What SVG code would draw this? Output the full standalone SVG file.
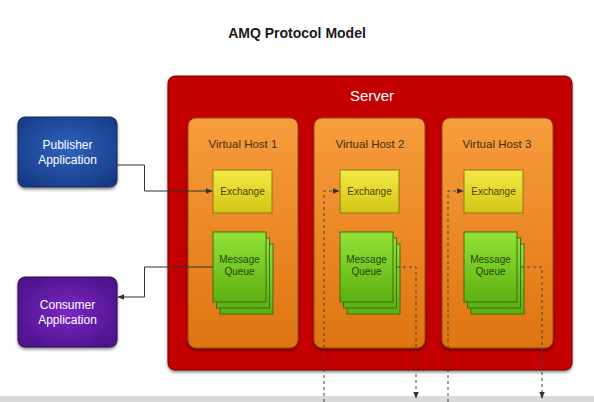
<svg xmlns="http://www.w3.org/2000/svg" width="594" height="402" viewBox="0 0 594 402">
  <defs>
    <linearGradient id="gVH" x1="0" y1="0" x2="0" y2="1">
      <stop offset="0" stop-color="#F89D3E"/>
      <stop offset="1" stop-color="#DE7410"/>
    </linearGradient>
    <linearGradient id="gEx" x1="0" y1="0" x2="0" y2="1">
      <stop offset="0" stop-color="#F4EA46"/>
      <stop offset="1" stop-color="#D2C414"/>
    </linearGradient>
    <linearGradient id="gMQ" x1="0" y1="0" x2="0" y2="1">
      <stop offset="0" stop-color="#92E236"/>
      <stop offset="1" stop-color="#5CB012"/>
    </linearGradient>
    <radialGradient id="gPub" cx="0.5" cy="0.45" r="0.65">
      <stop offset="0" stop-color="#2E64BE"/>
      <stop offset="1" stop-color="#173A84"/>
    </radialGradient>
    <radialGradient id="gCon" cx="0.5" cy="0.5" r="0.65">
      <stop offset="0" stop-color="#7A28C4"/>
      <stop offset="1" stop-color="#4A1286"/>
    </radialGradient>
    <filter id="sh" x="-10%" y="-10%" width="130%" height="130%">
      <feDropShadow dx="0" dy="2" stdDeviation="1.5" flood-color="#000" flood-opacity="0.45"/>
    </filter>
    <marker id="arr" viewBox="0 0 10 10" refX="9" refY="5" markerWidth="7" markerHeight="7" orient="auto">
      <path d="M0,1 L10,5 L0,9 Z" fill="#333"/>
    </marker>
  </defs>
  <style>
    text { font-family: "Liberation Sans", Arial, sans-serif; text-anchor: middle; }
    .title { font-size: 14px; font-weight: bold; fill: #1a1a1a; }
    .server { font-size: 15px; fill: #ffffff; }
    .vh { fill: url(#gVH); stroke: #8A4A12; stroke-width: 1; }
    .vhl { font-size: 11.5px; fill: #4A2E10; }
    .ex { fill: url(#gEx); stroke: #8A7A14; stroke-width: 1; }
    .exl { font-size: 10px; fill: #4A4612; }
    .mq { fill: url(#gMQ); stroke: #3E6E12; stroke-width: 1; }
    .mql { font-size: 10px; fill: #28460C; }
    .app { font-size: 12px; fill: #ffffff; }
    .solid { fill: none; stroke: #333; stroke-width: 1; }
    .dash { fill: none; stroke: #444; stroke-width: 1; stroke-dasharray: 3 3; }
  </style>
  <rect x="0" y="0" width="594" height="402" fill="#ffffff"/>
  <rect x="0" y="396" width="594" height="6" fill="#D9D9D9"/>

  <g id="title"><text class="title" x="297" y="38">AMQ Protocol Model</text></g>

  <g id="server">
    <rect x="168" y="76" width="404" height="294" rx="7" fill="#C40000" stroke="#6E0000" stroke-width="1" filter="url(#sh)"/>
    <text class="server" x="372" y="101">Server</text>
  </g>

  <g id="vhost1">
    <rect class="vh" x="188" y="118" width="110" height="230" rx="8" filter="url(#sh)"/>
    <text class="vhl" x="243" y="148">Virtual Host 1</text>
  </g>
  <g id="vhost2">
    <rect class="vh" x="314" y="118" width="111" height="230" rx="8" filter="url(#sh)"/>
    <text class="vhl" x="370" y="148">Virtual Host 2</text>
  </g>
  <g id="vhost3">
    <rect class="vh" x="442" y="118" width="111" height="230" rx="8" filter="url(#sh)"/>
    <text class="vhl" x="497" y="148">Virtual Host 3</text>
  </g>

  <g id="exchange1">
    <rect class="ex" x="213" y="170" width="59" height="43"/>
    <text class="exl" x="242.5" y="195">Exchange</text>
  </g>
  <g id="exchange2">
    <rect class="ex" x="340" y="170" width="59" height="43"/>
    <text class="exl" x="369.5" y="195">Exchange</text>
  </g>
  <g id="exchange3">
    <rect class="ex" x="464" y="170" width="59" height="43"/>
    <text class="exl" x="493.5" y="195">Exchange</text>
  </g>

  <g id="queue1">
    <rect class="mq" x="220" y="244" width="53" height="70"/>
    <rect class="mq" x="216.5" y="238" width="53" height="70"/>
    <rect class="mq" x="213" y="232" width="53" height="70"/>
    <text class="mql" x="239.5" y="263">Message</text>
    <text class="mql" x="239.5" y="275">Queue</text>
  </g>
  <g id="queue2">
    <rect class="mq" x="347" y="244" width="53" height="70"/>
    <rect class="mq" x="343.5" y="238" width="53" height="70"/>
    <rect class="mq" x="340" y="232" width="53" height="70"/>
    <text class="mql" x="366.5" y="263">Message</text>
    <text class="mql" x="366.5" y="275">Queue</text>
  </g>
  <g id="queue3">
    <rect class="mq" x="471" y="244" width="53" height="70"/>
    <rect class="mq" x="467.5" y="238" width="53" height="70"/>
    <rect class="mq" x="464" y="232" width="53" height="70"/>
    <text class="mql" x="490.5" y="263">Message</text>
    <text class="mql" x="490.5" y="275">Queue</text>
  </g>

  <g id="publisher">
    <rect x="18" y="117" width="99" height="70" rx="7" fill="url(#gPub)" stroke="#0F2A60" stroke-width="1" filter="url(#sh)"/>
    <text class="app" x="67.5" y="149">Publisher</text>
    <text class="app" x="67.5" y="164">Application</text>
  </g>
  <g id="consumer">
    <rect x="18" y="277" width="99" height="70" rx="7" fill="url(#gCon)" stroke="#300A5A" stroke-width="1" filter="url(#sh)"/>
    <text class="app" x="67.5" y="309">Consumer</text>
    <text class="app" x="67.5" y="324">Application</text>
  </g>

  <g id="connectors">
    <polyline class="solid" points="117,165 144.5,165 144.5,191 212,191" marker-end="url(#arr)"/>
    <polyline class="solid" points="213,267 144.5,267 144.5,297 118,297" marker-end="url(#arr)"/>
    <polyline class="dash" points="324,402 324,191 339,191" marker-end="url(#arr)"/>
    <polyline class="dash" points="397,267 416,267 416,398" marker-end="url(#arr)"/>
    <polyline class="dash" points="448,402 448,191 463,191" marker-end="url(#arr)"/>
    <polyline class="dash" points="521,267 542,267 542,398" marker-end="url(#arr)"/>
  </g>
</svg>
